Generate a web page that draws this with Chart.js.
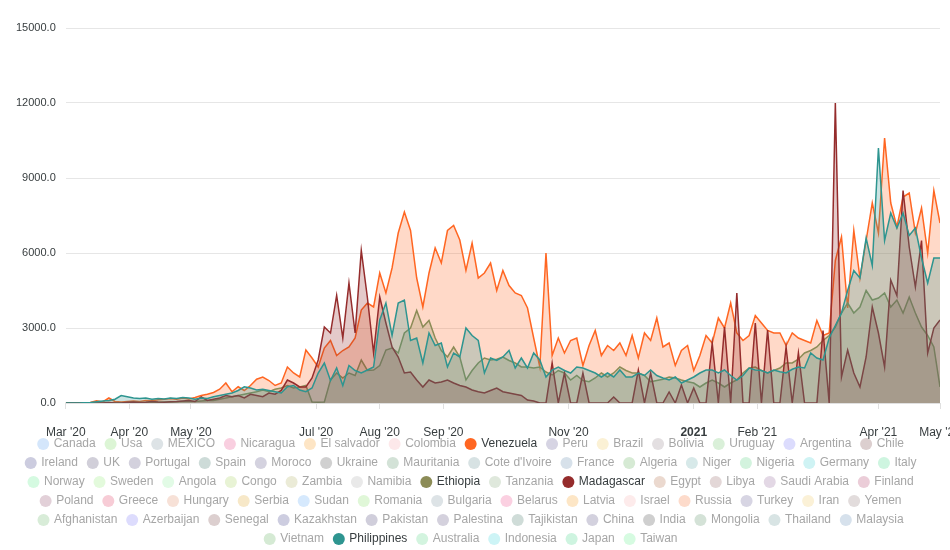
<!DOCTYPE html>
<html>
<head>
<meta charset="utf-8">
<script src="https://cdn.jsdelivr.net/npm/chart.js@4.4.0/dist/chart.umd.min.js"></script>
<style>
  html, body { margin: 0; padding: 0; background: #fff; }
</style>
</head>
<body>
<canvas id="chart" width="950" height="550"></canvas>
<script>
// one reading every 3 days, starting 1 Mar 2020
const stepDays = 3;
const tickDays = [0, 31, 61, 122, 153, 184, 245, 306, 337, 396, 426];
const tickLabels = ["Mar '20", "Apr '20", "May '20", "Jul '20", "Aug '20", "Sep '20", "Nov '20", "2021", "Feb '21", "Apr '21", "May '21"];

const venezuela = [
  0, 0, 0, 10, 20, 90, 40, 200, 60, 40,
  60, 80, 60, 100, 90, 130, 150, 180, 150, 200,
  160, 220, 300, 350, 420, 550, 800, 450, 650, 500,
  700, 950, 1040, 900, 700, 800, 1440, 1200, 1040, 2120,
  1800, 1440, 2200, 2500, 1900, 2100, 2240, 2600, 3720, 4000,
  3840, 5200, 4400, 5400, 6800, 7640, 6900, 5000, 3840, 5200,
  6200, 5600, 6900, 7100, 6520, 5300, 6400, 5000, 5200, 5600,
  4500, 5300, 4700, 4400, 4300, 3800, 2600, 1440, 6000, 1900,
  2600, 2000, 2500, 2600, 1500, 2300, 2900, 1900, 2300, 2100,
  2400, 1900, 2700, 1800, 2800, 2500, 3400, 2240, 2400, 1500,
  2100, 2300, 1300, 1900, 2700, 2400, 3400, 3000, 4000, 2800,
  2500, 2700, 3500, 3200, 2900, 2800, 2800, 2300, 2800, 2600,
  2500, 2400, 3300, 2700, 2800, 5700, 6640, 3800, 6900, 5000,
  6500, 8000, 6800, 10600, 8000, 7040, 8240, 8400, 6800, 7800,
  6000, 8500, 7200
];
const ethiopia = [
  0, 0, 0, 0, 0, 0, 0, 0, 0, 10,
  10, 20, 20, 20, 30, 30, 40, 40, 50, 60,
  60, 60, 80, 100, 100, 150, 200, 250, 300, 350,
  400, 450, 520, 450, 550, 600, 700, 600, 640, 700,
  40, 30, 40, 920, 1200, 1000, 1200, 1100, 1720, 1300,
  1320, 1500, 2120, 2200, 2000, 2800, 3000, 3700, 3040, 3300,
  2600, 2100, 1840, 2240, 1840, 920, 1300, 1600, 1800, 1720,
  1750, 1840, 1700, 1600, 1440, 1440, 1400, 1440, 1240, 1120,
  1300, 1200, 920, 1100, 900, 850, 1000, 1200, 1040, 1200,
  1440, 1300, 1200, 1200, 1100, 850, 900, 950, 1040, 1000,
  920, 850, 800, 640, 800, 920, 800, 640, 800, 920,
  1200, 1400, 1440, 1300, 1200, 1300, 1400, 1600, 1600, 1750,
  2000, 2100, 2240, 2500, 2700, 3040, 3600, 4000, 3600, 3840,
  4500, 4120, 4200, 4400, 3840, 4120, 3600, 4240, 3600, 3040,
  2700, 2240, 640
];
const madagascar = [
  0, 0, 0, 0, 0, 0, 0, 20, 0, 0,
  30, 40, 20, 30, 60, 40, 30, 50, 60, 80,
  100, 60, 240, 100, 150, 200, 300, 250, 300, 200,
  350, 300, 250, 400, 350, 500, 920, 800, 640, 640,
  1000, 1720, 3040, 2800, 4300, 2600, 4800, 2800, 6100, 4200,
  2000, 4240, 3200, 2240, 1840, 1200, 1240, 920, 640, 920,
  800, 840, 920, 800, 700, 640, 520, 450, 400, 500,
  600, 450, 400, 350, 300, 120, 80, 0, 0, 1600,
  0, 1200, 0, 0, 1200, 0, 0, 0, 0, 240,
  0, 0, 0, 1320, 0, 1200, 0, 0, 440, 0,
  720, 0, 600, 0, 0, 2400, 0, 3040, 0, 4400,
  0, 0, 3200, 0, 2920, 0, 0, 2240, 0, 2000,
  0, 0, 0, 2900, 0, 12000, 1040, 2120, 1200, 640,
  1840, 3840, 2800, 1440, 4920, 4300, 8500, 6240, 4640, 6500,
  2000, 3000, 3320
];
const philippines = [
  0, 0, 0, 10, 20, 50, 80, 100, 150, 300,
  250, 200, 180, 200, 150, 180, 160, 200, 180, 220,
  200, 150, 200, 180, 250, 300, 350, 400, 500, 650,
  600, 520, 550, 500, 450, 400, 650, 700, 520, 450,
  600, 1200, 1600, 900, 1400, 700, 1500, 1300, 1200, 1320,
  1440, 3320, 4000, 2700, 4000, 4120, 2500, 2600, 1600, 2800,
  2300, 2400, 1440, 2000, 1840, 3000, 2700, 2500, 1200, 1800,
  1700, 1840, 2100, 1400, 1800, 1400, 2000, 1720, 1040, 1320,
  1440, 1300, 1200, 1440, 1400, 1300, 1200, 1040, 1200, 1040,
  1320, 1040, 1040, 1200, 1100, 1320, 1100, 1000, 920, 1040,
  800, 920, 1040, 1200, 1320, 1320, 1200, 1320, 1100, 920,
  1100, 1400, 1320, 1300, 1200, 1320, 1250, 1200, 1350, 1440,
  1400, 2000, 1800, 1720, 2600, 3100, 3600, 4500, 5300, 5000,
  6600, 5500, 10200, 6500, 7600, 7000, 7600, 6700, 7000, 5800,
  4800, 5800, 5800
];

// legend entries, in the order of the original legend
const legendNames = [
  "Canada", "Usa", "MEXICO", "Nicaragua", "El salvador", "Colombia", "Venezuela", "Peru", "Brazil", "Bolivia", "Uruguay", "Argentina", "Chile",
  "Ireland", "UK", "Portugal", "Spain", "Moroco", "Ukraine", "Mauritania", "Cote d'Ivoire", "France", "Algeria", "Niger", "Nigeria", "Germany", "Italy",
  "Norway", "Sweden", "Angola", "Congo", "Zambia", "Namibia", "Ethiopia", "Tanzania", "Madagascar", "Egypt", "Libya", "Saudi Arabia", "Finland",
  "Poland", "Greece", "Hungary", "Serbia", "Sudan", "Romania", "Bulgaria", "Belarus", "Latvia", "Israel", "Russia", "Turkey", "Iran", "Yemen",
  "Afghanistan", "Azerbaijan", "Senegal", "Kazakhstan", "Pakistan", "Palestina", "Tajikistan", "China", "India", "Mongolia", "Thailand", "Malaysia",
  "Vietnam", "Philippines", "Australia", "Indonesia", "Japan", "Taiwan"
];
const legendColors = [
  "#d4e6fb", "#dcf5d5", "#dde3e6", "#f9cfe0", "#fde5c5", "#fde8ea", "#ff6622", "#d6d4e3", "#fbf1d5", "#e3dfe1", "#daf0d9", "#dcdcfd", "#dccfcf",
  "#ccccdf", "#d1cfd9", "#d3d1dd", "#cddbd8", "#d4d2df", "#d0d0d0", "#d3e2d7", "#d7e2e3", "#d7e1ea", "#d6ead4", "#d7e9e9", "#d3f3de", "#cff3f4", "#cef5e0",
  "#d5fae1", "#e3fadc", "#e2fbe6", "#e8f3d5", "#ebebd7", "#e9e9e9", "#8c8c57", "#dfe8dc", "#952c2c", "#ebd9cf", "#e3d7d7", "#e3d8e5", "#ebcdd8",
  "#e2d0d8", "#f7ccd6", "#f7e1d7", "#f7e8c8", "#d6e9fd", "#e0f7d8", "#dde3e6", "#fbd0e1", "#fde6c6", "#fdebeb", "#fddbcb", "#d7d5e3", "#fbf1d7", "#e2dcdc",
  "#d8ecd8", "#dddcfd", "#dccfcf", "#cdcde0", "#d0cedb", "#d4d1dd", "#cfdcd8", "#d3d1de", "#cfcfcf", "#d4e2d7", "#d8e4e4", "#d6e1ec",
  "#d5ead4", "#2e9590", "#d3f4df", "#cdf4f6", "#cef4e0", "#d6fbe1"
];

const series = [
  { name: "Venezuela", values: venezuela, color: "#ff6622", fill: "rgba(255, 102, 34, 0.25)", order: 4 },
  { name: "Ethiopia", values: ethiopia, color: "#8c8c57", fill: "rgba(140, 140, 87, 0.25)", order: 3 },
  { name: "Madagascar", values: madagascar, color: "#952c2c", fill: "rgba(149, 44, 44, 0.25)", order: 2 },
  { name: "Philippines", values: philippines, color: "#2e9590", fill: "rgba(46, 149, 144, 0.25)", order: 1 },
];
const activeNames = series.map((s) => s.name);

Chart.defaults.font.family = "'Liberation Sans', Arial, sans-serif";
Chart.defaults.color = "#373d3f";

// the legend sits a little closer to the axis labels than Chart.js leaves room for
const legendNudge = {
  id: "legendNudge",
  afterLayout(chart) {
    const lg = chart.legend;
    const dy = chart.chartArea.bottom + 28 - lg.top;
    lg.top += dy;
    lg.bottom += dy;
  },
};

const ctx = document.getElementById("chart").getContext("2d");

new Chart(ctx, {
  type: "line",
  data: {
    datasets: series.map((s) => ({
      label: s.name,
      data: s.values.map((v, i) => ({ x: i * stepDays, y: v })),
      borderColor: s.color,
      backgroundColor: s.fill,
      borderWidth: 1.5,
      pointRadius: 0,
      fill: "origin",
      tension: 0,
      order: s.order,
    })),
  },
  plugins: [legendNudge],
  options: {
    responsive: false,
    animation: false,
    layout: { padding: { left: 6, right: 10, top: 28, bottom: -29.4 } },
    scales: {
      x: {
        type: "linear",
        min: 0,
        max: 426,
        afterBuildTicks: (scale) => {
          scale.ticks = tickDays.map((d) => ({ value: d }));
        },
        afterFit: (scale) => {
          scale.paddingLeft = 0;
          scale.paddingRight = 0;
        },
        grid: { drawOnChartArea: false, drawTicks: true, tickLength: 6, tickColor: "#e0e0e0" },
        border: { color: "#e0e0e0" },
        ticks: {
          autoSkip: false,
          maxRotation: 0,
          padding: 16,
          color: "#373d3f",
          font: (c) => ({ size: 12, weight: c.tick && c.tick.label === "2021" ? "bold" : "normal" }),
          callback: (value, index) => tickLabels[index],
        },
      },
      y: {
        min: 0,
        max: 15000,
        grid: { color: "#e6e6e6", drawTicks: false },
        border: { display: false },
        ticks: {
          stepSize: 3000,
          padding: 10,
          color: "#373d3f",
          font: { size: 11 },
          callback: (value) => value.toFixed(1),
        },
      },
    },
    plugins: {
      tooltip: { enabled: false },
      legend: {
        position: "bottom",
        align: "center",
        onClick: () => {},
        labels: {
          usePointStyle: true,
          boxWidth: 9,
          boxHeight: 8.5,
          padding: 7,
          font: { size: 12 },
          generateLabels: () =>
            legendNames.map((name, i) => {
              const active = activeNames.includes(name);
              return {
                text: name + " ",
                fillStyle: legendColors[i],
                strokeStyle: legendColors[i],
                lineWidth: 0,
                pointStyle: "circle",
                hidden: false,
                fontColor: active ? "#373d3f" : "#a6a6a6",
                datasetIndex: active ? activeNames.indexOf(name) : undefined,
              };
            }),
        },
      },
    },
  },
});
</script>
</body>
</html>
